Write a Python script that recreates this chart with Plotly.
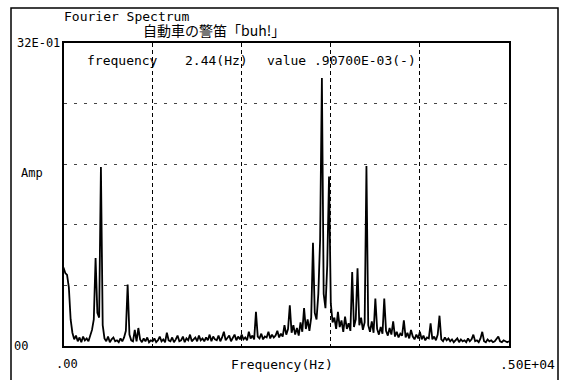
import plotly.graph_objects as go

# ---- data ----
freq_step_hz = 20  # sample spacing of the spectrum (Hz)
amp = [
    0.83, 0.77, 0.75, 0.62, 0.28, 0.14, 0.07, 0.11, 0.05, 0.09,
    0.04, 0.10, 0.06, 0.08, 0.05, 0.12, 0.17, 0.28, 0.93, 0.35,
    0.30, 1.89, 0.22, 0.08, 0.05, 0.10, 0.04, 0.07, 0.09, 0.05,
    0.06, 0.04, 0.08, 0.05, 0.09, 0.16, 0.65, 0.12, 0.06, 0.05,
    0.17, 0.05, 0.19, 0.07, 0.04, 0.08, 0.05, 0.09, 0.04, 0.06,
    0.05, 0.08, 0.04, 0.06, 0.10, 0.05, 0.07, 0.04, 0.14, 0.06,
    0.05, 0.09, 0.04, 0.07, 0.11, 0.05, 0.06, 0.10, 0.04, 0.08,
    0.06, 0.12, 0.05, 0.07, 0.09, 0.05, 0.11, 0.06, 0.08, 0.05,
    0.09, 0.06, 0.12, 0.05, 0.10, 0.07, 0.06, 0.11, 0.05, 0.09,
    0.15, 0.06, 0.08, 0.11, 0.05, 0.09, 0.12, 0.06, 0.10, 0.07,
    0.12, 0.07, 0.09, 0.06, 0.15, 0.08, 0.11, 0.07, 0.36, 0.10,
    0.08, 0.13, 0.07, 0.10, 0.09, 0.15, 0.08, 0.12, 0.09, 0.11,
    0.16, 0.09, 0.13, 0.10, 0.22, 0.12, 0.18, 0.43, 0.14, 0.22,
    0.12, 0.19, 0.11, 0.25, 0.15, 0.40, 0.18, 0.28, 0.16, 0.30,
    1.09, 0.35, 0.28, 0.55, 1.12, 2.83, 0.55, 0.40, 0.85, 1.79,
    0.45, 0.25, 0.30, 0.18, 0.36, 0.20, 0.27, 0.15, 0.31, 0.18,
    0.24, 0.16, 0.78, 0.20, 0.28, 0.82, 0.22, 0.30, 0.17, 0.25,
    1.90, 0.22, 0.15, 0.26, 0.14, 0.50, 0.18, 0.12, 0.20, 0.13,
    0.50, 0.16, 0.11, 0.19, 0.12, 0.26, 0.10, 0.15, 0.09, 0.13,
    0.11, 0.27, 0.09, 0.14, 0.08, 0.17, 0.10, 0.07, 0.12, 0.08,
    0.15, 0.07, 0.11, 0.06, 0.09, 0.08, 0.24, 0.07, 0.10, 0.06,
    0.12, 0.32, 0.07, 0.05, 0.09, 0.06, 0.08, 0.05, 0.07, 0.04,
    0.06, 0.08, 0.04, 0.07, 0.05, 0.06, 0.04, 0.08, 0.05, 0.07,
    0.12, 0.05, 0.06, 0.04, 0.08, 0.15, 0.05, 0.04, 0.07, 0.05,
    0.06, 0.04, 0.05, 0.07, 0.10, 0.05, 0.04, 0.06, 0.05, 0.04, 0.05,
]
freq = [i * freq_step_hz for i in range(len(amp))]

x_range = [0, 5000]
y_range = [0, 3.2]
x_grid_step = 1000
y_grid_step = 0.64

title_1 = "Fourier Spectrum"
title_2 = "自動車の警笛「buh!」"
y_top_label = "32E-01"
y_bottom_label = "00"
y_title = "Amp"
x_left_label = ".00"
x_right_label = ".50E+04"
x_title = "Frequency(Hz)"
readout = [("frequency", 85), ("2.44(Hz)", 183), ("value", 265), (".90700E-03(-)", 312)]

W, H = 570, 380
def px(x):
    return x / W
def py(y):
    return 1 - y / H

MONO = "DejaVu Sans Mono"

fig = go.Figure()
fig.add_trace(go.Scatter(x=freq, y=amp, mode="lines",
                         line=dict(color="black", width=1.8),
                         hoverinfo="skip", showlegend=False))

fig.update_layout(
    width=W, height=H,
    margin=dict(l=0, r=0, t=0, b=0),
    paper_bgcolor="white", plot_bgcolor="white",
    showlegend=False,
    xaxis=dict(domain=[px(63.5), px(509)], range=x_range, dtick=x_grid_step, tick0=0,
               showticklabels=False, ticks="", zeroline=False,
               showgrid=True, gridcolor="black", gridwidth=1, griddash="4px,3px",
               showline=True, linecolor="black", linewidth=1.5, mirror=True),
    yaxis=dict(domain=[py(346), py(43)], range=y_range, dtick=y_grid_step, tick0=0,
               showticklabels=False, ticks="", zeroline=False,
               showgrid=True, gridcolor="#444444", gridwidth=1, griddash="3px,7px",
               showline=True, linecolor="black", linewidth=1.5, mirror=True),
)

# outer frame
fig.add_shape(type="rect", xref="paper", yref="paper",
              x0=px(11), x1=px(558), y0=-0.05, y1=py(8),
              line=dict(color="black", width=1.5), fillcolor="rgba(0,0,0,0)")

def label(text, x, y, size=13, anchor="left", family=MONO):
    fig.add_annotation(text=text, xref="paper", yref="paper",
                       x=px(x), y=py(y), xanchor=anchor, yanchor="middle",
                       showarrow=False, font=dict(family=family, size=size, color="black"))

label(title_1, 62, 16)
label(title_2, 141, 30, size=14, family="Noto Sans CJK JP")
label(y_top_label, 15, 43, size=12)
label(y_title, 19, 173, size=12)
label(y_bottom_label, 12, 346, size=12)
label(x_left_label, 54, 364, size=12)
label(x_title, 229, 364, size=13)
label(x_right_label, 557, 364, size=13, anchor="right")
for txt, x in readout:
    label(txt, x, 60, size=13)

fig.write_html("out.html")
